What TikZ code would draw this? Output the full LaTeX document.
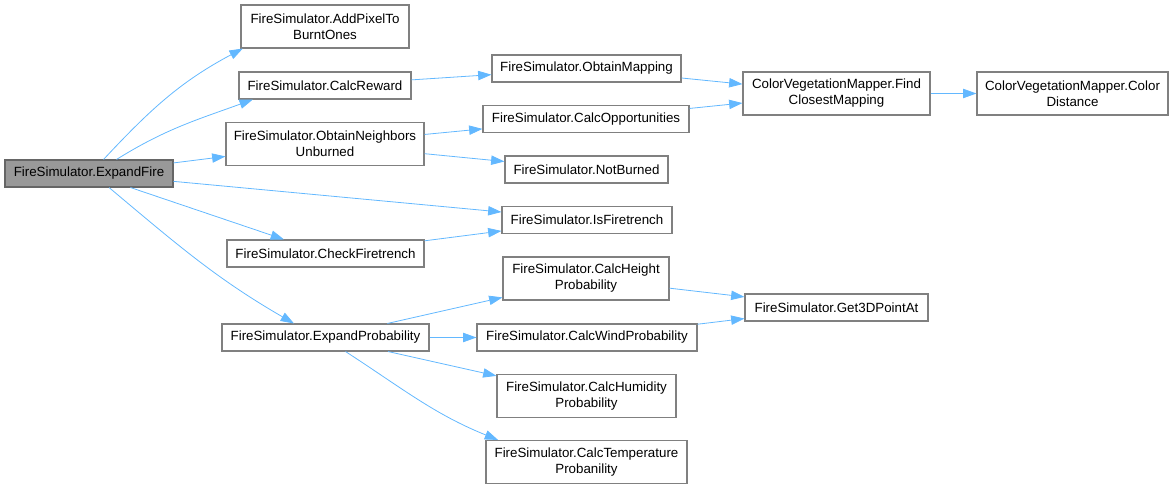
\documentclass[tikz,border=0pt]{standalone}
\usepackage{fontspec}
\setmainfont{Liberation Sans}
\usetikzlibrary{arrows.meta, positioning}

\definecolor{edgeblue}{HTML}{63B8FF}
\definecolor{boxline}{HTML}{808080}
\definecolor{rootfill}{HTML}{999999}

\begin{document}
\begin{tikzpicture}[x=0.75pt, y=0.75pt,
    >={Triangle[length=10pt,width=7pt]},
    every node/.style={rectangle,
                       draw=boxline,
                       line width=0.8pt,
                       fill=white,
                       inner sep=0pt,
                       minimum height=20.25pt,  % one-line box
                       align=center,
                       font=\fontsize{10}{12}\selectfont},
    twoline/.style={minimum height=32.25pt},   % two-line box
    call/.style={->, draw=edgeblue, line width=0.6pt}]

  \useasboundingbox (0,0) rectangle (1173,489);

  % Root of the call graph
  \node[fill=rootfill, draw=black!60, minimum width=126pt] (ExpandFire) at (89,315.5) {FireSimulator.ExpandFire};

  % First column of callees
  \node[twoline, minimum width=126pt] (AddPixel) at (325,462.5) {FireSimulator.AddPixelTo\\BurntOnes};
  \node[minimum width=129pt] (CalcReward) at (325,403.5) {FireSimulator.CalcReward};
  \node[twoline, minimum width=148.5pt] (Neighbors) at (325,345) {FireSimulator.ObtainNeighbors\\Unburned};
  \node[minimum width=147.75pt] (CheckTrench) at (325.5,235.5) {FireSimulator.CheckFiretrench};
  \node[minimum width=155.25pt] (ExpandProb) at (325.5,151.5) {FireSimulator.ExpandProbability};

  % Second column
  \node[minimum width=141.75pt] (Mapping) at (586.5,420.5) {FireSimulator.ObtainMapping};
  \node[minimum width=154.5pt] (Opportunities) at (586,370) {FireSimulator.CalcOpportunities};
  \node[minimum width=122.25pt] (NotBurned) at (586.5,319.5) {FireSimulator.NotBurned};
  \node[minimum width=127.5pt] (IsTrench) at (587,269) {FireSimulator.IsFiretrench};
  \node[twoline, minimum width=124.5pt] (HeightProb) at (586,210.5) {FireSimulator.CalcHeight\\Probability};
  \node[minimum width=165pt] (WindProb) at (587,151.5) {FireSimulator.CalcWindProbability};
  \node[twoline, minimum width=134.25pt] (HumidProb) at (586.5,93) {FireSimulator.CalcHumidity\\Probability};
  \node[twoline, minimum width=150.75pt] (TempProb) at (586.5,27) {FireSimulator.CalcTemperature\\Probanility};

  % Third and fourth columns
  \node[twoline, minimum width=140.25pt] (FindMapping) at (836.5,395.5) {ColorVegetationMapper.Find\\ClosestMapping};
  \node[minimum width=137.25pt] (PointAt) at (836.5,181.5) {FireSimulator.Get3DPointAt};
  \node[twoline, minimum width=143.25pt] (ColorDist) at (1072.5,395.5) {ColorVegetationMapper.Color\\Distance};

  % Calls made by ExpandFire
  \draw[call] (ExpandFire.44) to[out=47,in=208] (AddPixel.195);
  \draw[call] (ExpandFire.27) to[out=32,in=200] (CalcReward.191);
  \draw[call] (ExpandFire) -- (Neighbors);
  \draw[call] (ExpandFire) -- (IsTrench);
  \draw[call] (ExpandFire) -- (CheckTrench);
  \draw[call] (ExpandFire.-35) to[out=-40,in=150] (ExpandProb.156);

  % Calls further down
  \draw[call] (CalcReward) -- (Mapping);
  \draw[call] (Neighbors) -- (Opportunities);
  \draw[call] (Neighbors) -- (NotBurned);
  \draw[call] (CheckTrench) -- (IsTrench);
  \draw[call] (ExpandProb) -- (HeightProb);
  \draw[call] (ExpandProb) -- (WindProb);
  \draw[call] (ExpandProb) -- (HumidProb);
  \draw[call] (ExpandProb.-35) to[out=-33,in=158] (TempProb.166);

  \draw[call] (Mapping) -- (FindMapping);
  \draw[call] (Opportunities) -- (FindMapping);
  \draw[call] (FindMapping) -- (ColorDist);
  \draw[call] (HeightProb) -- (PointAt);
  \draw[call] (WindProb) -- (PointAt);

\end{tikzpicture}
\end{document}
